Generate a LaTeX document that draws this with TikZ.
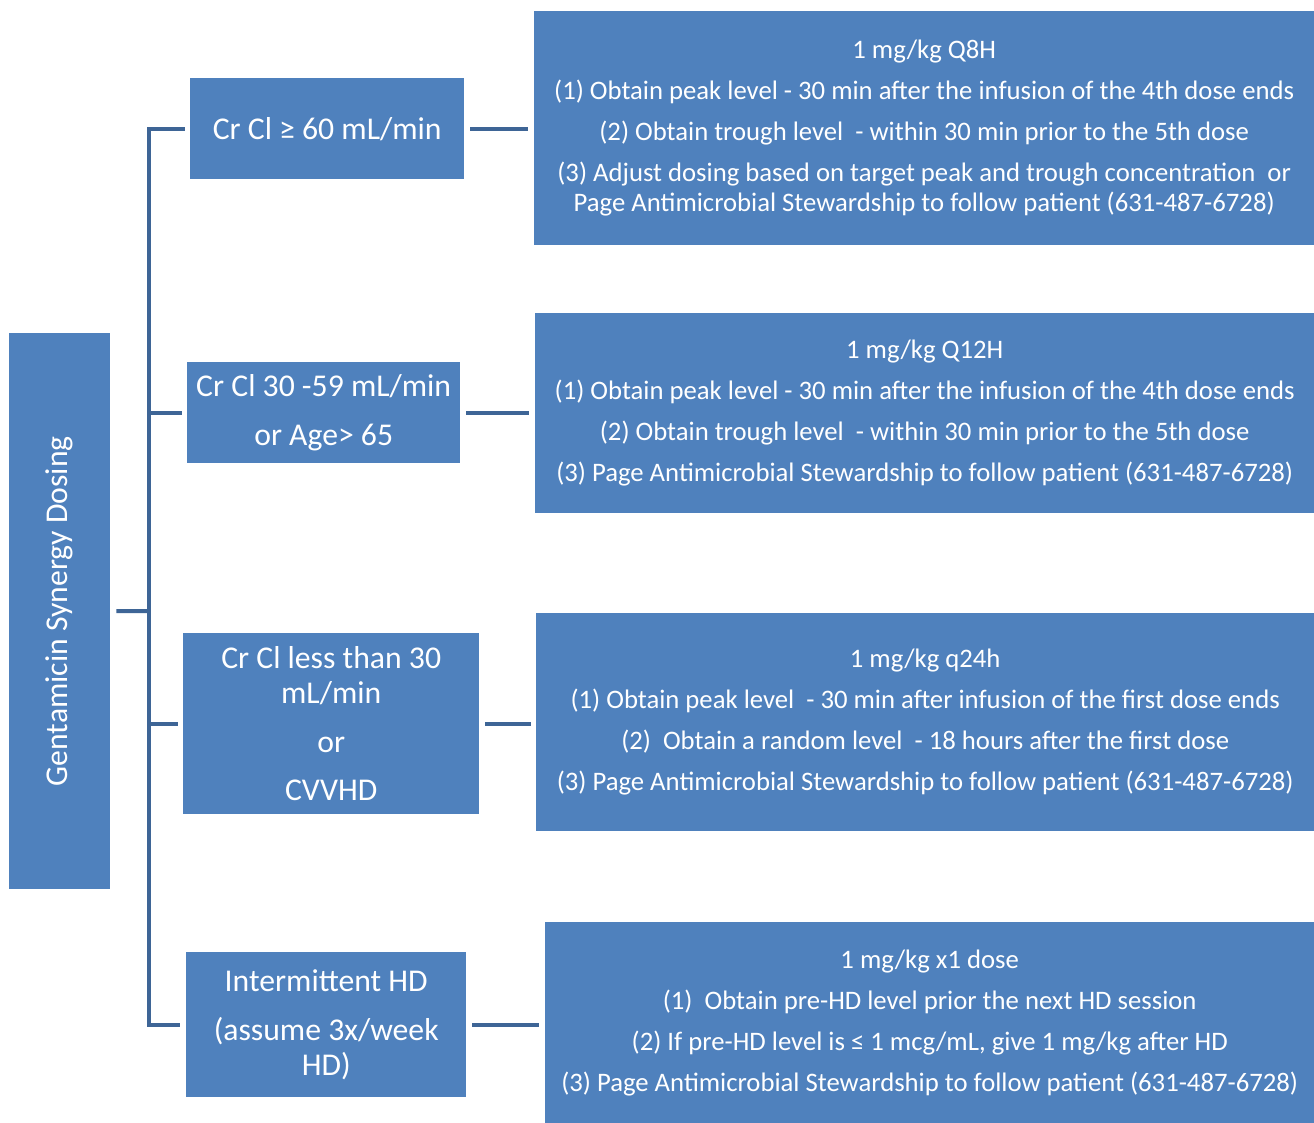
\documentclass[tikz,border=0pt]{standalone}
\usepackage{fontspec}
\setmainfont{Carlito}
\definecolor{boxblue}{HTML}{4F81BD}
\definecolor{linkblue}{HTML}{3E6596}
\begin{document}
\begin{tikzpicture}[x=1pt,y=-1pt,
  box/.style={fill=boxblue,text=white,inner sep=0pt,anchor=north west,align=center},
  rule/.style={box,font=\fontsize{31.7}{35}\selectfont},
  dose/.style={box,font=\fontsize{26.7}{30}\selectfont},
  link/.style={draw=linkblue,line width=4pt}]
\useasboundingbox (0,0) rectangle (1314,1123);
\node[rule,minimum width=101pt,minimum height=556pt] (root) at (9,333) {\rotatebox{90}{Gentamicin Synergy Dosing}};
\node[rule,minimum width=274pt,minimum height=101pt] (crHigh) at (190,78) {Cr Cl ≥ 60 mL/min};
\node[rule,minimum width=273pt,minimum height=101pt] (crMid) at (187,362) {Cr Cl 30 -59 mL/min\\[14pt]or Age> 65};
\node[rule,minimum width=296pt,minimum height=181pt] (crLow) at (183,633) {Cr Cl less than 30\\mL/min\\[14pt]or\\[13pt]CVVHD};
\node[rule,minimum width=280pt,minimum height=145pt] (hd) at (186,952) {Intermittent HD\\[14pt](assume 3x/week\\HD)};
\node[dose,minimum width=780pt,minimum height=234pt] (doseHigh) at (534,11) {1 mg/kg Q8H\\[11pt]
  (1) Obtain peak level - 30 min after the infusion of the 4th dose ends\\[11pt]
  (2) Obtain trough level~ - within 30 min prior to the 5th dose\\[11pt]
  (3) Adjust dosing based on target peak and trough concentration~ or\\
  Page Antimicrobial Stewardship to follow patient (631-487-6728)};
\node[dose,minimum width=779pt,minimum height=200pt] (doseMid) at (535,313) {1 mg/kg Q12H\\[11pt]
  (1) Obtain peak level - 30 min after the infusion of the 4th dose ends\\[11pt]
  (2) Obtain trough level~ - within 30 min prior to the 5th dose\\[11pt]
  (3) Page Antimicrobial Stewardship to follow patient (631-487-6728)};
\node[dose,minimum width=778pt,minimum height=218pt] (doseLow) at (536,613) {1 mg/kg q24h\\[11pt]
  (1) Obtain peak level~ - 30 min after infusion of the first dose ends\\[11pt]
  (2)~ Obtain a random level~ - 18 hours after the first dose\\[11pt]
  (3) Page Antimicrobial Stewardship to follow patient (631-487-6728)};
\node[dose,minimum width=769pt,minimum height=201pt] (doseHD) at (545,922) {1 mg/kg x1 dose\\[11pt]
  (1)~ Obtain pre-HD level prior the next HD session\\[11pt]
  (2) If pre-HD level is ≤ 1 mcg/mL, give 1 mg/kg after HD\\[11pt]
  (3) Page Antimicrobial Stewardship to follow patient (631-487-6728)};
\coordinate (spine) at (148.5,611);
\draw[link,shorten <=6pt] (root.east) -- (spine);
\draw[link,shorten >=5pt] (spine) |- (crHigh.west);
\draw[link,shorten >=5pt] (spine) |- (crMid.west);
\draw[link,shorten >=5pt] (spine) |- (crLow.west);
\draw[link,shorten >=6pt] (spine) |- (hd.west);
\draw[link,shorten <=6pt,shorten >=6pt] (crHigh.east) -- (crHigh.east -| doseHigh.west);
\draw[link,shorten <=6pt,shorten >=6pt] (crMid.east) -- (crMid.east -| doseMid.west);
\draw[link,shorten <=6pt,shorten >=5pt] (crLow.east) -- (crLow.east -| doseLow.west);
\draw[link,shorten <=6pt,shorten >=6pt] (hd.east) -- (hd.east -| doseHD.west);
\end{tikzpicture}
\end{document}
